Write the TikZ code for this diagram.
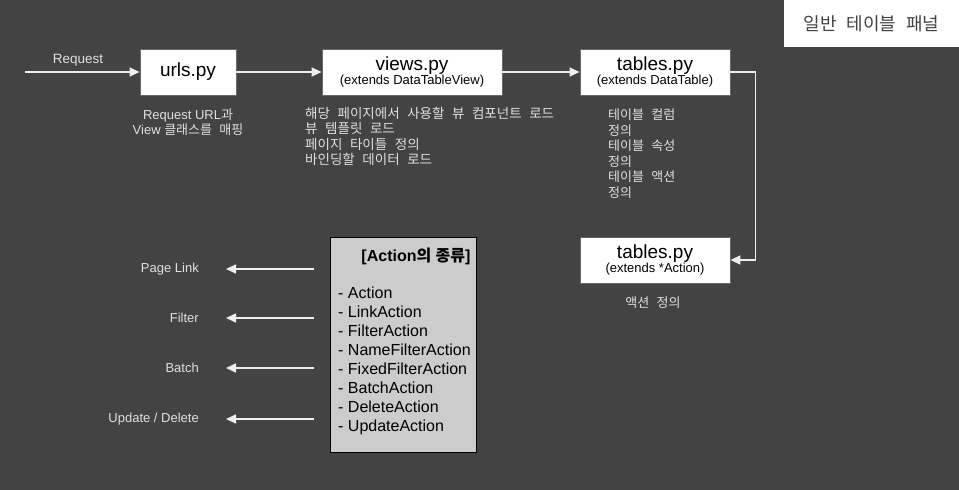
\documentclass[tikz,border=0pt]{standalone}
\usepackage{fontspec}
\setmainfont{Liberation Sans}
\newfontfamily\kr[WordSpace=2.5]{Noto Sans CJK KR}
\usetikzlibrary{arrows.meta}
\definecolor{bg}{HTML}{434343}
\definecolor{lt}{HTML}{E0E0E0}
\definecolor{ln}{HTML}{EEEEEE}
\definecolor{boxg}{HTML}{CCCCCC}
\begin{document}
\begin{tikzpicture}[x=1pt,y=-1pt,
  wbox/.style={draw=bg!80!white,line width=0.8pt,fill=white,inner sep=0pt,align=center,text=black},
  conn/.style={draw=ln,line width=1.6pt,-{Triangle[length=10pt,width=9pt]}},
  desc/.style={text=lt,font=\fontsize{12.5}{15.5}\selectfont,inner sep=0pt},
  lbl/.style={text=lt,font=\fontsize{13}{15}\selectfont,inner sep=0pt}]
\useasboundingbox[fill=bg] (0,0) rectangle (959,490);
% title box
\node[fill=white,minimum width=175pt,minimum height=47pt,inner sep=0pt,text=bg,font=\kr\fontsize{18}{20}\selectfont] (title) at (871.5,23.5) {일반 테이블 패널};
% boxes
\node[wbox,minimum width=96pt,minimum height=46pt,font=\fontsize{19}{22}\selectfont] (urls) at (188,72) {urls.py};
\node[wbox,minimum width=180pt,minimum height=46pt] (views) at (412,72) {{\fontsize{19}{20}\selectfont views.py}\\[0pt]{\fontsize{13}{14}\selectfont (extends DataTableView)}};
\node[wbox,minimum width=150pt,minimum height=46pt] (tables) at (655,72) {{\fontsize{19}{20}\selectfont tables.py}\\[0pt]{\fontsize{13}{14}\selectfont (extends DataTable)}};
\node[wbox,minimum width=150pt,minimum height=46pt] (tact) at (655,260) {{\fontsize{19}{20}\selectfont tables.py}\\[0pt]{\fontsize{13}{14}\selectfont (extends *Action)}};
% request
\coordinate (req) at (25,72);
\node[lbl,font=\fontsize{13.5}{15}\selectfont] (reqlbl) at (78,60) {Request};
\draw[conn] (req) -- (urls.west);
\draw[conn] (urls.east) -- (views.west);
\draw[conn] (views.east) -- (tables.west);
\draw[conn] (tables.east) -- ++(25,0) |- (tact.east);
% descriptions
\node[desc,align=center,font=\fontsize{13}{15.5}\selectfont] (urlsd) at (188,122) {Request URL{\kr 과}\\View {\kr 클래스를 매핑}};
\node[desc,align=left,anchor=north west,font=\kr\fontsize{13.5}{15.3}\selectfont] (viewsd) at (305,107) {해당 페이지에서 사용할 뷰 컴포넌트 로드\\뷰 템플릿 로드\\페이지 타이틀 정의\\바인딩할 데이터 로드};
\node[desc,align=left,anchor=north west,font=\kr\fontsize{13}{15.5}\selectfont] (tablesd) at (608,109) {테이블 컬럼\\정의\\테이블 속성\\정의\\테이블 액션\\정의};
\node[desc,font=\kr\fontsize{13}{14}\selectfont] (tactd) at (653,303) {액션 정의};
% action box
\node[draw=black,line width=1pt,fill=boxg,minimum width=146pt,minimum height=215pt,inner sep=0pt] (act) at (403,344.5) {};
\node[inner sep=0pt,font=\bfseries\fontsize{16}{18}\selectfont] (acttitle) at (416,256) {[Action{\kr\bfseries 의} {\kr\bfseries 종류}]};
\node[inner sep=0pt,anchor=north west,align=left,font=\fontsize{16}{19}\selectfont] (actlist) at (338,287) {- Action\\- LinkAction\\- FilterAction\\- NameFilterAction\\- FixedFilterAction\\- BatchAction\\- DeleteAction\\- UpdateAction};
% left arrows
\foreach \y/\t/\n in {269/{Page Link}/a, 318/{Filter}/b, 368/{Batch}/c, 419/{Update / Delete}/d}{
  \coordinate (s\n) at (314,\y);
  \coordinate (e\n) at (226,\y);
  \draw[conn] (s\n) -- (e\n);
  \node[lbl,anchor=east] (l\n) at (199,\y) {\t};
}
\end{tikzpicture}
\end{document}
